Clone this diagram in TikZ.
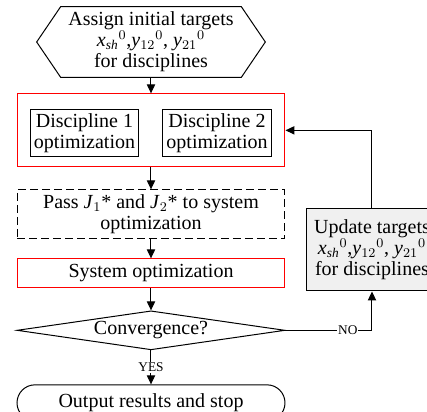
\documentclass[tikz,border=0pt]{standalone}
\usepackage{amsmath}
\usepackage{fontspec}
\setmainfont{Liberation Serif}
\usetikzlibrary{arrows.meta,positioning,shapes.geometric}

\newcommand{\targets}{\textit{x}$_{\textit{sh}}{}^{0}$,\textit{y}$_{12}{}^{0}$, \textit{y}$_{21}{}^{0}$}

\begin{document}
\begin{tikzpicture}[x=0.6pt,y=-0.6pt,node distance=13.2pt,
    every node/.style={font=\fontsize{12}{12.6}\selectfont,align=center,inner sep=1pt},
    box/.style={rectangle,draw,line width=0.6pt,minimum width=160.8pt},
    redbox/.style={box,draw=red},
    sub/.style={box,minimum width=65.4pt,minimum height=28.2pt},
    arrow/.style={-{Triangle[width=5pt,length=5.4pt]},line width=0.6pt},
    tag/.style={font=\fontsize{8}{8.5}\selectfont,fill=white,inner sep=0.5pt}]
    \useasboundingbox (0,0) rectangle (427,412);

    % start: hexagon drawn round the text node
    \node[minimum width=108pt,minimum height=42pt,inner sep=0pt] (init) at (151,42)
        {Assign initial targets\\ \targets\\ for disciplines};
    \draw[line width=0.6pt] (init.north west) -- (init.north east) -- ([xshift=14.4pt]init.east)
        -- (init.south east) -- (init.south west) -- ([xshift=-14.4pt]init.west) -- cycle;

    % discipline level
    \node[redbox,minimum height=43.8pt,below=9.6pt of init] (opt) {};
    \node[sub] (d1) at ([shift={(-39.9pt,-1.8pt)}]opt.center) {Discipline 1\\optimization};
    \node[sub] (d2) at ([shift={(39.6pt,-1.8pt)}]opt.center) {Discipline 2\\optimization};

    % system level
    \node[box,dashed,dash pattern=on 4.8pt off 2.4pt,minimum height=29.4pt,below=13.2pt of opt] (pass)
        {Pass \textit{J}$_1$* and \textit{J}$_2$* to system\\optimization};
    \node[redbox,minimum height=17.4pt,below=11.4pt of pass] (sys) {System optimization};
    \node[diamond,draw,line width=0.6pt,aspect=6.9,minimum width=160.8pt,minimum height=23.4pt,
        inner sep=0pt,below=13.2pt of sys] (conv) {Convergence?};
    \node[box,rounded corners=10.8pt,minimum height=21.6pt,below=20.4pt of conv] (stop)
        {Output results and stop};

    % loop back
    \node[box,fill=gray!12,minimum width=78pt,minimum height=49.8pt] (upd) at (372,249.5)
        {Update targets\\ \targets\\ for disciplines};

    \draw[arrow] (init) -- (opt);
    \draw[arrow] (opt) -- (pass);
    \draw[arrow] (pass) -- (sys);
    \draw[arrow] (sys) -- (conv);
    \draw[arrow] (conv) -- node[tag] {YES} (stop);
    \draw[arrow] (conv.east) -| node[tag,pos=0.36] {NO} (upd.south);
    \draw[arrow] (upd.north) |- (opt.east);
\end{tikzpicture}
\end{document}
